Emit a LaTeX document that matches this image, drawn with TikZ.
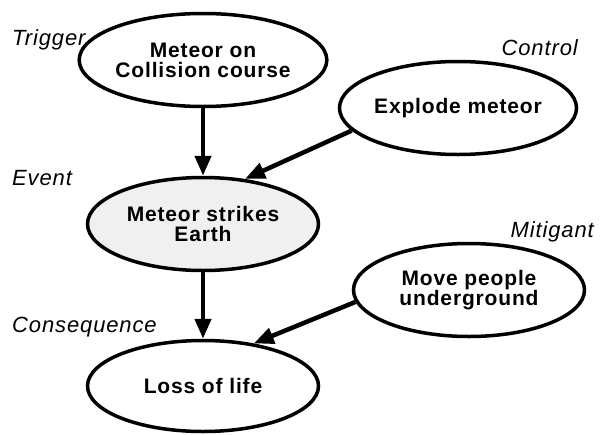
\documentclass[tikz,border=0pt]{standalone}
\usepackage{fontspec}
\setmainfont{Liberation Sans}[LetterSpace=4]
\usetikzlibrary{shapes.geometric,arrows.meta}

\begin{document}
\begin{tikzpicture}[x=1pt,y=-1pt,
    bubble/.style={ellipse, draw, line width=3.5pt, minimum width=231pt, minimum height=93pt,
      inner sep=0pt, align=center, font=\bfseries\fontsize{21}{20}\selectfont},
    tag/.style={inner sep=0pt, font=\itshape\fontsize{22}{24}\selectfont},
    link/.style={line width=4.5pt, -{Triangle[length=20pt,width=16pt]}}]
    \useasboundingbox (0,0) rectangle (600,434);

    % Nodes
    \node[bubble] (trigger) at (203,60) {Meteor on\\Collision course};
    \node[bubble] (control) at (458,108) {Explode meteor};
    \node[bubble, fill=black!6] (event) at (203,224) {Meteor strikes\\Earth};
    \node[bubble] (mitigant) at (469,290) {Move people\\underground};
    \node[bubble, minimum height=91pt] (outcome) at (203,386) {Loss of life};

    % Labels
    \node[tag, anchor=base west] (triggertag) at (12,45) {Trigger};
    \node[tag, anchor=base east] (controltag) at (578,55) {Control};
    \node[tag, anchor=base west] (eventtag) at (12,185) {Event};
    \node[tag, anchor=base east] (mitiganttag) at (594,237) {Mitigant};
    \node[tag, anchor=base west] (outcometag) at (12,332) {Consequence};

    % Edges
    \draw[link] (trigger) -- (event);
    \draw[link] (control.192) -- (event.47);
    \draw[link] (event) -- (outcome);
    \draw[link] (mitigant.186) -- (outcome.40);
\end{tikzpicture}
\end{document}
